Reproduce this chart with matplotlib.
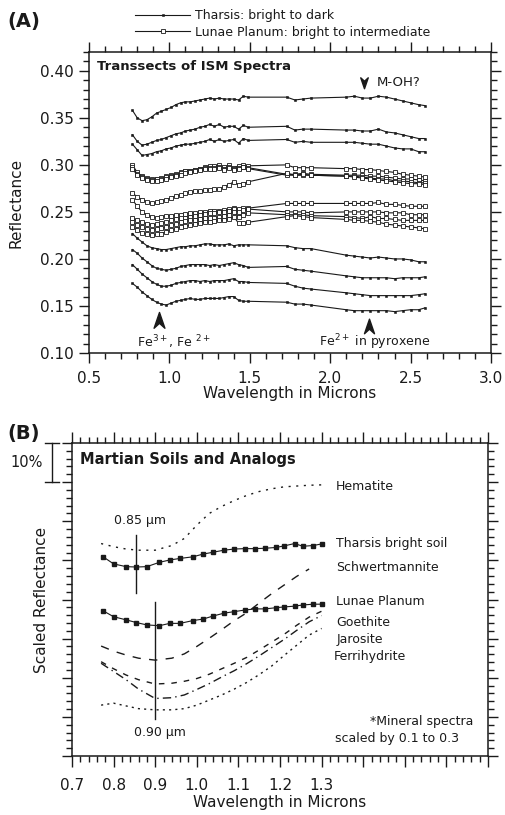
import matplotlib
matplotlib.use("Agg")
import matplotlib.pyplot as plt
from matplotlib.path import Path
from matplotlib.ticker import MultipleLocator, FuncFormatter

plt.rcParams['font.family'] = ['DejaVu Sans']
plt.rcParams['mathtext.default'] = 'regular'

# ---------------- Panel A data: ISM spectra transects ----------------
wl_A = [0.77, 0.80, 0.83, 0.86, 0.89, 0.92, 0.95, 0.98, 1.01, 1.04, 1.07, 1.10, 1.13,
        1.16, 1.19, 1.22, 1.25, 1.28, 1.31, 1.34, 1.37, 1.40, 1.43, 1.46, 1.49,
        1.73, 1.78, 1.83, 1.88,
        2.10, 2.15, 2.20, 2.25, 2.30, 2.35, 2.40, 2.45, 2.50, 2.55, 2.59]

# Tharsis: bright to dark (filled markers)
tharsis_1 = [0.358, 0.350, 0.347, 0.348, 0.351, 0.355, 0.357, 0.359, 0.361, 0.364, 0.366, 0.367, 0.367,
             0.368, 0.369, 0.370, 0.371, 0.370, 0.371, 0.370, 0.370, 0.370, 0.369, 0.373, 0.372,
             0.372, 0.369, 0.370, 0.371,
             0.372, 0.373, 0.371, 0.371, 0.373, 0.372, 0.370, 0.368, 0.366, 0.364, 0.363]
tharsis_2 = [0.332, 0.325, 0.321, 0.322, 0.324, 0.326, 0.327, 0.329, 0.331, 0.333, 0.334, 0.336, 0.337,
             0.338, 0.340, 0.341, 0.343, 0.341, 0.343, 0.340, 0.341, 0.341, 0.338, 0.342, 0.340,
             0.341, 0.337, 0.338, 0.338,
             0.337, 0.337, 0.336, 0.336, 0.338, 0.335, 0.334, 0.332, 0.330, 0.328, 0.328]
tharsis_3 = [0.322, 0.316, 0.310, 0.311, 0.312, 0.314, 0.315, 0.317, 0.318, 0.320, 0.321, 0.322, 0.322,
             0.323, 0.324, 0.325, 0.327, 0.325, 0.327, 0.325, 0.326, 0.327, 0.323, 0.328, 0.326,
             0.327, 0.324, 0.325, 0.324,
             0.324, 0.324, 0.323, 0.322, 0.322, 0.320, 0.318, 0.317, 0.317, 0.314, 0.314]
tharsis_4 = [0.227, 0.222, 0.218, 0.214, 0.212, 0.211, 0.210, 0.210, 0.211, 0.212, 0.213, 0.213, 0.214,
             0.214, 0.215, 0.216, 0.216, 0.215, 0.215, 0.215, 0.216, 0.214, 0.215, 0.215, 0.215,
             0.214, 0.212, 0.211, 0.211,
             0.204, 0.203, 0.202, 0.201, 0.202, 0.201, 0.200, 0.200, 0.199, 0.197, 0.197]
tharsis_5 = [0.210, 0.206, 0.201, 0.197, 0.193, 0.190, 0.189, 0.188, 0.189, 0.190, 0.192, 0.193, 0.194,
             0.194, 0.194, 0.194, 0.193, 0.194, 0.193, 0.194, 0.195, 0.196, 0.194, 0.193, 0.191,
             0.192, 0.189, 0.188, 0.187,
             0.182, 0.181, 0.180, 0.180, 0.180, 0.180, 0.179, 0.180, 0.180, 0.180, 0.181]
tharsis_6 = [0.194, 0.189, 0.184, 0.180, 0.176, 0.173, 0.171, 0.171, 0.172, 0.174, 0.175, 0.176, 0.177,
             0.177, 0.176, 0.177, 0.176, 0.177, 0.177, 0.177, 0.178, 0.179, 0.176, 0.176, 0.175,
             0.174, 0.171, 0.169, 0.168,
             0.164, 0.163, 0.162, 0.161, 0.161, 0.161, 0.161, 0.161, 0.161, 0.162, 0.163]
tharsis_7 = [0.174, 0.170, 0.165, 0.161, 0.157, 0.154, 0.152, 0.151, 0.153, 0.155, 0.156, 0.157, 0.158,
             0.157, 0.157, 0.158, 0.158, 0.158, 0.158, 0.159, 0.160, 0.160, 0.156, 0.155, 0.155,
             0.154, 0.152, 0.152, 0.151,
             0.146, 0.145, 0.145, 0.145, 0.145, 0.145, 0.144, 0.145, 0.146, 0.146, 0.148]

# Lunae Planum: bright to intermediate (open markers)
lunae_1 = [0.300, 0.292, 0.288, 0.286, 0.285, 0.285, 0.286, 0.288, 0.289, 0.290, 0.292, 0.293, 0.294,
           0.295, 0.296, 0.298, 0.299, 0.299, 0.300, 0.298, 0.300, 0.297, 0.299, 0.300, 0.299,
           0.300, 0.297, 0.297, 0.297,
           0.296, 0.296, 0.295, 0.295, 0.294, 0.293, 0.292, 0.290, 0.289, 0.288, 0.287]
lunae_2 = [0.298, 0.290, 0.287, 0.285, 0.284, 0.285, 0.285, 0.287, 0.288, 0.289, 0.291, 0.293, 0.294,
           0.295, 0.296, 0.297, 0.297, 0.297, 0.298, 0.296, 0.298, 0.296, 0.297, 0.298, 0.297,
           0.290, 0.290, 0.291, 0.290,
           0.289, 0.289, 0.289, 0.288, 0.288, 0.287, 0.286, 0.285, 0.285, 0.284, 0.283]
lunae_3 = [0.296, 0.289, 0.286, 0.284, 0.283, 0.283, 0.284, 0.285, 0.287, 0.288, 0.289, 0.291, 0.292,
           0.293, 0.295, 0.296, 0.296, 0.296, 0.297, 0.295, 0.297, 0.295, 0.296, 0.298, 0.296,
           0.289, 0.289, 0.289, 0.289,
           0.288, 0.288, 0.287, 0.286, 0.285, 0.285, 0.283, 0.283, 0.282, 0.281, 0.281]
lunae_4 = [0.270, 0.266, 0.263, 0.261, 0.259, 0.260, 0.262, 0.263, 0.265, 0.267, 0.268, 0.270, 0.271,
           0.272, 0.272, 0.273, 0.273, 0.274, 0.274, 0.277, 0.279, 0.282, 0.279, 0.280, 0.282,
           0.291, 0.289, 0.290, 0.289,
           0.288, 0.287, 0.286, 0.285, 0.284, 0.283, 0.282, 0.281, 0.280, 0.280, 0.279]
lunae_5 = [0.263, 0.256, 0.250, 0.247, 0.245, 0.244, 0.245, 0.246, 0.246, 0.247, 0.247, 0.248, 0.249,
           0.249, 0.250, 0.250, 0.251, 0.251, 0.251, 0.252, 0.253, 0.254, 0.253, 0.254, 0.254,
           0.259, 0.259, 0.259, 0.259,
           0.259, 0.259, 0.259, 0.259, 0.260, 0.258, 0.258, 0.257, 0.256, 0.256, 0.256]
lunae_6 = [0.243, 0.241, 0.239, 0.237, 0.236, 0.237, 0.238, 0.239, 0.241, 0.242, 0.243, 0.244, 0.245,
           0.246, 0.247, 0.248, 0.249, 0.249, 0.250, 0.250, 0.251, 0.253, 0.250, 0.252, 0.253,
           0.250, 0.250, 0.250, 0.249,
           0.250, 0.250, 0.250, 0.250, 0.250, 0.249, 0.249, 0.249, 0.247, 0.247, 0.247]
lunae_7 = [0.239, 0.236, 0.234, 0.232, 0.231, 0.232, 0.233, 0.234, 0.236, 0.237, 0.239, 0.240, 0.241,
           0.241, 0.242, 0.243, 0.244, 0.244, 0.245, 0.246, 0.247, 0.250, 0.245, 0.247, 0.249,
           0.247, 0.247, 0.247, 0.246,
           0.245, 0.244, 0.243, 0.245, 0.243, 0.243, 0.242, 0.241, 0.241, 0.241, 0.241]
lunae_8 = [0.234, 0.231, 0.228, 0.227, 0.225, 0.226, 0.227, 0.229, 0.231, 0.232, 0.234, 0.235, 0.236,
           0.237, 0.238, 0.239, 0.239, 0.240, 0.241, 0.241, 0.242, 0.245, 0.238, 0.238, 0.239,
           0.245, 0.246, 0.245, 0.244,
           0.242, 0.241, 0.241, 0.240, 0.239, 0.237, 0.236, 0.235, 0.234, 0.233, 0.232]

tharsis_series = [tharsis_1, tharsis_2, tharsis_3, tharsis_4, tharsis_5, tharsis_6, tharsis_7]
lunae_series = [lunae_1, lunae_2, lunae_3, lunae_4, lunae_5, lunae_6, lunae_7, lunae_8]

legend_labels_A = ["Tharsis: bright to dark", "Lunae Planum: bright to intermediate"]

# ---------------- Panel B data: Martian soils and analogs (scaled %) ----------------
wl_soil = [0.775, 0.80, 0.83, 0.855, 0.88, 0.91, 0.935, 0.96, 0.99, 1.015, 1.04, 1.065,
           1.09, 1.115, 1.14, 1.165, 1.19, 1.21, 1.235, 1.255, 1.28, 1.30]
tharsis_soil = [50.9, 49.1, 48.4, 48.3, 48.4, 49.5, 50.1, 50.5, 50.9, 51.6, 52.1, 52.6,
                52.9, 53.0, 53.0, 53.1, 53.3, 53.7, 54.3, 53.6, 53.8, 54.2]
lunae_soil = [37.1, 35.6, 34.8, 34.1, 33.5, 33.3, 33.9, 33.9, 34.6, 35.0, 35.8, 36.5,
              36.9, 37.3, 37.6, 37.6, 37.9, 38.1, 38.3, 38.6, 38.8, 38.8]

wl_min = [0.77, 0.80, 0.83, 0.86, 0.90, 0.94, 0.97, 1.00, 1.03, 1.06, 1.09, 1.12,
          1.15, 1.18, 1.21, 1.24, 1.27, 1.30]
hematite = [54.3, 53.5, 52.9, 52.6, 52.6, 53.8, 55.6, 59.0, 62.0, 63.8, 65.3, 66.6,
            67.6, 68.3, 68.8, 69.0, 69.2, 69.3]
schwertmannite = [28.1, 26.8, 25.8, 25.0, 24.5, 25.0, 26.1, 28.0, 30.1, 32.3, 34.6, 36.6,
                  39.1, 41.5, 43.7, 45.9, 47.8]
goethite = [24.1, 22.3, 20.7, 19.5, 18.4, 18.6, 19.1, 19.8, 20.9, 22.3, 23.7, 25.2,
            27.1, 29.1, 31.1, 33.4, 35.5, 37.0]
jarosite = [23.7, 21.6, 19.5, 17.1, 14.7, 14.9, 15.6, 17.0, 18.5, 20.2, 21.8, 23.6,
            25.6, 27.7, 29.8, 32.1, 34.3, 35.9]
ferrihydrite = [13.0, 13.5, 12.8, 12.1, 11.8, 11.8, 12.1, 13.0, 14.3, 15.6, 17.1, 18.8,
                20.8, 23.0, 25.7, 28.3, 30.9, 32.6]

labels_B = ["Hematite", "Tharsis bright soil", "Schwertmannite", "Lunae Planum",
            "Goethite", "Jarosite", "Ferrihydrite"]

# ---------------- figure ----------------
W, H = 506, 815
fig = plt.figure(figsize=(W / 100, H / 100), dpi=100)
K = '#1a1a1a'

def fx(px):
    return px / W

def fy(py):
    return 1 - py / H

axA = fig.add_axes([fx(89), fy(353), fx(491) - fx(89), fy(52) - fy(353)])
axB = fig.add_axes([fx(72), fy(756), fx(488) - fx(72), fy(443) - fy(756)])

for ax in (axA, axB):
    for s in ax.spines.values():
        s.set_linewidth(1.1)
        s.set_color(K)
    ax.tick_params(which='both', direction='out', top=True, right=True, color=K,
                   width=1.0, labelsize=11, labelcolor=K)
    ax.tick_params(which='major', length=7)
    ax.tick_params(which='minor', length=4)

# ---- panel A ----
h_th = None
h_lu = None
for ser in tharsis_series:
    h_th, = axA.plot(wl_A, ser, color=K, lw=0.8, marker='s', ms=2.0,
                     mfc=K, mec=K, mew=0.4)
for ser in lunae_series:
    h_lu, = axA.plot(wl_A, ser, color=K, lw=0.8, marker='s', ms=2.2,
                     mfc='white', mec=K, mew=0.6)

axA.set_xlim(0.5, 3.0)
axA.set_ylim(0.10, 0.42)
axA.xaxis.set_major_locator(MultipleLocator(0.5))
axA.xaxis.set_minor_locator(MultipleLocator(0.1))
axA.yaxis.set_major_locator(MultipleLocator(0.05))
axA.yaxis.set_minor_locator(MultipleLocator(0.01))
axA.xaxis.set_major_formatter(FuncFormatter(lambda v, p: f"{v:.1f}"))
axA.yaxis.set_major_formatter(FuncFormatter(lambda v, p: f"{v:.2f}"))
axA.tick_params(axis='x', pad=6)
axA.tick_params(axis='y', pad=4)
axA.set_xlabel("Wavelength in Microns", fontsize=11, color=K)
axA.xaxis.set_label_coords(0.5, -0.11)
axA.set_ylabel("Reflectance", fontsize=11, color=K)
axA.yaxis.set_label_coords(-0.162, 0.5)

axA.text(0.55, 0.405, "Transsects of ISM Spectra", fontsize=9.5, fontweight='bold',
         ha='left', va='center', color=K)

down_arrow = Path([(0, -1), (-0.6, 0.75), (0, 0.2), (0.6, 0.75), (0, -1)],
                  [Path.MOVETO, Path.LINETO, Path.LINETO, Path.LINETO, Path.CLOSEPOLY])
up_arrow = Path([(0, 1), (-0.6, -0.75), (0, -0.2), (0.6, -0.75), (0, 1)],
                [Path.MOVETO, Path.LINETO, Path.LINETO, Path.LINETO, Path.CLOSEPOLY])

axA.plot([2.21], [0.3878], marker=down_arrow, ms=9, color=K, ls='none')
axA.text(2.29, 0.3878, "M-OH?", fontsize=9.5, ha='left', va='center', color=K)
axA.plot([0.937], [0.1335], marker=up_arrow, ms=13, color=K, ls='none')
axA.plot([2.243], [0.1280], marker=up_arrow, ms=12, color=K, ls='none')
axA.text(0.80, 0.1115, r"Fe$^{3+}$, Fe $^{2+}$", fontsize=9, ha='left', va='center', color=K)
axA.text(1.93, 0.1115, r"Fe$^{2+}$ in pyroxene", fontsize=9, ha='left', va='center', color=K)

fig.legend([h_th, h_lu], legend_labels_A, loc='upper left',
           bbox_to_anchor=(fx(135), fy(9)), frameon=False, fontsize=9,
           handlelength=4.4, handletextpad=0.4, labelspacing=0.3,
           borderpad=0, borderaxespad=0, numpoints=1, labelcolor=K)

fig.text(fx(7), fy(22), "(A)", fontsize=14, fontweight='bold', ha='left', va='center', color=K)

# ---- panel B ----
axB.plot(wl_min, hematite, color=K, lw=1.0, ls=(0, (1.5, 4)))
axB.plot(wl_soil, tharsis_soil, color=K, lw=0.8, marker='s', ms=2.2, mfc=K, mec=K)
axB.plot(wl_min[:len(schwertmannite)], schwertmannite, color=K, lw=1.0, ls=(0, (6, 6)))
axB.plot(wl_soil, lunae_soil, color=K, lw=0.8, marker='s', ms=2.2, mfc=K, mec=K)
axB.plot(wl_min, goethite, color=K, lw=1.0, ls=(0, (4, 5)))
axB.plot(wl_min, jarosite, color=K, lw=1.0, ls=(0, (6, 3, 1, 3)))
axB.plot(wl_min, ferrihydrite, color=K, lw=1.0, ls=(0, (1.5, 3)))

axB.set_xlim(0.7, 1.7)
axB.set_ylim(0, 80)
axB.xaxis.set_major_locator(MultipleLocator(0.1))
axB.xaxis.set_minor_locator(MultipleLocator(0.02))
axB.yaxis.set_major_locator(MultipleLocator(10))
axB.yaxis.set_minor_locator(MultipleLocator(2))
axB.xaxis.set_major_formatter(FuncFormatter(lambda v, p: f"{v:.1f}" if v < 1.35 else ""))
axB.yaxis.set_major_formatter(FuncFormatter(lambda v, p: ""))
axB.tick_params(axis='x', which='major', length=8, pad=8)
axB.set_xlabel("Wavelength in Microns", fontsize=11, color=K)
axB.xaxis.set_label_coords(0.5, -0.125)
axB.set_ylabel("Scaled Reflectance", fontsize=11, color=K)
axB.yaxis.set_label_coords(-0.055, 0.5)

axB.text(0.719, 75.7, "Martian Soils and Analogs", fontsize=10.5, fontweight='bold',
         ha='left', va='center', color=K)

label_y_B = [68.8, 54.4, 48.1, 39.6, 34.1, 29.8, 25.4]
label_x_B = [1.335, 1.335, 1.335, 1.335, 1.335, 1.335, 1.33]
for lx, ly, lt in zip(label_x_B, label_y_B, labels_B):
    axB.text(lx, ly, lt, fontsize=9, ha='left', va='center', color=K)

axB.text(1.665, 8.8, "*Mineral spectra", fontsize=9, ha='right', va='center', color=K)
axB.text(1.333, 4.5, "scaled by 0.1 to 0.3", fontsize=9, ha='left', va='center', color=K)

# feature lines
axB.plot([0.853, 0.853], [41.6, 56.5], color=K, lw=1.0)
axB.text(0.80, 60.3, "0.85 µm", fontsize=9, ha='left', va='center', color=K)
axB.plot([0.9, 0.9], [9.4, 39.4], color=K, lw=1.0)
axB.text(0.85, 5.9, "0.90 µm", fontsize=9, ha='left', va='center', color=K)

# 10% scale bar
axB.plot([0.652, 0.652], [70, 80], color=K, lw=1.0, clip_on=False)
axB.plot([0.636, 0.668], [80, 80], color=K, lw=1.0, clip_on=False)
axB.plot([0.636, 0.668], [70, 70], color=K, lw=1.0, clip_on=False)
axB.text(0.631, 75.0, "10%", fontsize=10.5, ha='right', va='center', color=K)

fig.text(fx(7), fy(434), "(B)", fontsize=14, fontweight='bold', ha='left', va='center', color=K)

fig.savefig("out.png", dpi=100, facecolor='white')
